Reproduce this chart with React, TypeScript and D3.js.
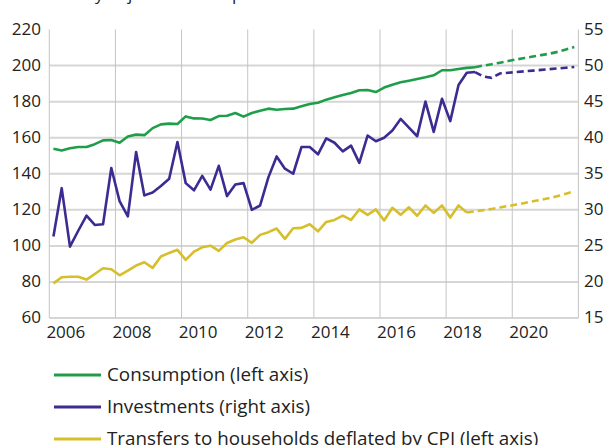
import React from "react";
import * as d3 from "d3";

const START_YEAR = 2006;
const xTickYears = [2006, 2008, 2010, 2012, 2014, 2016, 2018, 2020];
const leftTicks = [60, 80, 100, 120, 140, 160, 180, 200, 220];
const rightTicks = [15, 20, 25, 30, 35, 40, 45, 50, 55];

// Quarterly, 2006Q1 ... 2018Q4
const consumption = [
  153.9, 152.9, 154.1, 154.8, 154.8, 156.4, 158.5, 158.7, 157.2, 160.7, 161.7, 161.4,
  165.3, 167.4, 167.8, 167.6, 171.8, 170.7, 170.6, 169.8, 172.0, 172.2, 173.7, 171.7,
  173.7, 175.0, 176.1, 175.5, 175.9, 176.1, 177.4, 178.7, 179.4, 181.1, 182.4, 183.7,
  184.8, 186.3, 186.4, 185.3, 187.8, 189.4, 190.7, 191.6, 192.6, 193.5, 194.6, 197.4,
  197.4, 198.1, 198.7, 199.1,
];
// 2018Q4 ... 2021Q4 (projection)
const consumptionProj = [
  199.1, 200.0, 200.7, 201.6, 202.5, 203.4, 204.2, 205.0, 205.8, 206.6, 207.6, 208.9, 210.3,
];

const investments = [
  26.3, 33.0, 24.9, 27.1, 29.2, 27.9, 28.0, 35.8, 31.2, 29.1, 38.0, 32.0,
  32.4, 33.3, 34.3, 39.4, 33.7, 32.7, 34.7, 32.8, 36.1, 31.9, 33.5, 33.7,
  30.0, 30.6, 34.5, 37.4, 35.7, 35.0, 38.7, 38.7, 37.7, 39.9, 39.3, 38.1,
  38.9, 36.5, 40.3, 39.5, 40.0, 41.0, 42.6, 41.4, 40.2, 45.0, 40.8, 45.4,
  42.3, 47.3, 49.0, 49.1,
];
const investmentsProj = [
  49.1, 48.5, 48.3, 48.9, 49.0, 49.1, 49.2, 49.3, 49.4, 49.5, 49.6, 49.7, 49.8,
];

// 2006Q1 ... 2018Q3
const transfers = [
  79.2, 82.6, 82.9, 82.9, 81.3, 84.4, 87.6, 87.0, 83.7, 86.3, 89.1, 90.9,
  87.8, 94.1, 96.1, 97.8, 92.2, 96.8, 99.2, 100.1, 97.2, 101.6, 103.5, 104.8,
  101.7, 106.1, 107.6, 109.6, 103.9, 109.8, 110.0, 112.0, 108.1, 113.3, 114.4, 116.8,
  114.4, 120.2, 117.2, 120.2, 114.1, 121.1, 117.2, 121.4, 116.7, 122.4, 118.3, 122.4,
  115.7, 122.4, 118.5,
];
// 2018Q3 ... 2021Q4 (projection)
const transfersProj = [
  118.5, 119.2, 119.8, 120.5, 121.3, 122.1, 122.9, 123.8, 124.7, 125.6, 126.5, 127.6, 128.9, 130.3,
];

const legendItems = [
  { label: "Consumption (left axis)", color: "#1f9e4a" },
  { label: "Investments (right axis)", color: "#3d2b91" },
  { label: "Transfers to households deflated by CPI (left axis)", color: "#d6bf2a" },
];

const W = 606;
const H = 445;
const plot = { left: 49.3, right: 578.4, top: 29.5, bottom: 318 };
const FONT = "'Open Sans', 'Noto Sans', sans-serif";

const qTime = (i: number) => START_YEAR + (i + 0.5) / 4;

export default function App() {
  const x = d3.scaleLinear().domain([2006, 2022]).range([plot.left, plot.right]);
  const yL = d3.scaleLinear().domain([60, 220]).range([plot.bottom, plot.top]);
  const yR = d3.scaleLinear().domain([15, 55]).range([plot.bottom, plot.top]);

  const mk = (scale: d3.ScaleLinear<number, number>, offset: number) =>
    d3
      .line<number>()
      .x((_, i) => x(qTime(i + offset)))
      .y((v) => scale(v));

  const consProjOff = consumption.length - 1;
  const invProjOff = investments.length - 1;
  const trProjOff = transfers.length - 1;

  const gridYears = d3.range(2006, 2023, 2);

  return (
    <svg width={W} height={H} style={{ position: "absolute", left: 0, top: 0 }} fontFamily={FONT}>
      <rect width={W} height={H} fill="#ffffff" />
      <text x={20} y={0} fontSize={17} fill="#222">
        Seasonally adjusted. Fixed prices
      </text>
      {leftTicks
        .filter((t) => t !== 220)
        .map((t) => (
          <line key={"h" + t} x1={plot.left} x2={plot.right} y1={yL(t)} y2={yL(t)} stroke="#d6d6d6" strokeWidth={2} />
        ))}
      {gridYears.map((yr) => (
        <line key={"v" + yr} x1={x(yr)} x2={x(yr)} y1={plot.top} y2={plot.bottom} stroke="#c4c4c4" strokeWidth={1} />
      ))}
      {leftTicks.map((t) => (
        <text key={"l" + t} x={41} y={yL(t) + 5} textAnchor="end" fontSize={17} fill="#222">
          {t}
        </text>
      ))}
      {rightTicks.map((t) => (
        <text key={"r" + t} x={584} y={yR(t) + 5} textAnchor="start" fontSize={17} fill="#222">
          {t}
        </text>
      ))}
      {xTickYears.map((yr) => (
        <text key={"x" + yr} x={x(yr + 0.5)} y={338} textAnchor="middle" fontSize={17} fill="#222">
          {yr}
        </text>
      ))}
      <path d={mk(yL, trProjOff)(transfersProj) || ""} fill="none" stroke={legendItems[2].color} strokeWidth={2.6} strokeDasharray="7,4" />
      <path d={mk(yL, 0)(transfers) || ""} fill="none" stroke={legendItems[2].color} strokeWidth={2.6} strokeLinejoin="round" />
      <path d={mk(yR, invProjOff)(investmentsProj) || ""} fill="none" stroke={legendItems[1].color} strokeWidth={2.6} strokeDasharray="7,4" />
      <path d={mk(yR, 0)(investments) || ""} fill="none" stroke={legendItems[1].color} strokeWidth={2.6} strokeLinejoin="round" />
      <path d={mk(yL, consProjOff)(consumptionProj) || ""} fill="none" stroke={legendItems[0].color} strokeWidth={2.6} strokeDasharray="7,4" />
      <path d={mk(yL, 0)(consumption) || ""} fill="none" stroke={legendItems[0].color} strokeWidth={2.6} strokeLinejoin="round" />
      {legendItems.map((it, i) => {
        const ly = 375 + i * 32;
        return (
          <g key={it.label}>
            <line x1={54} x2={101} y1={ly} y2={ly} stroke={it.color} strokeWidth={3} />
            <text x={107} y={ly + 6} fontSize={18.8} fill="#222">
              {it.label}
            </text>
          </g>
        );
      })}
    </svg>
  );
}
